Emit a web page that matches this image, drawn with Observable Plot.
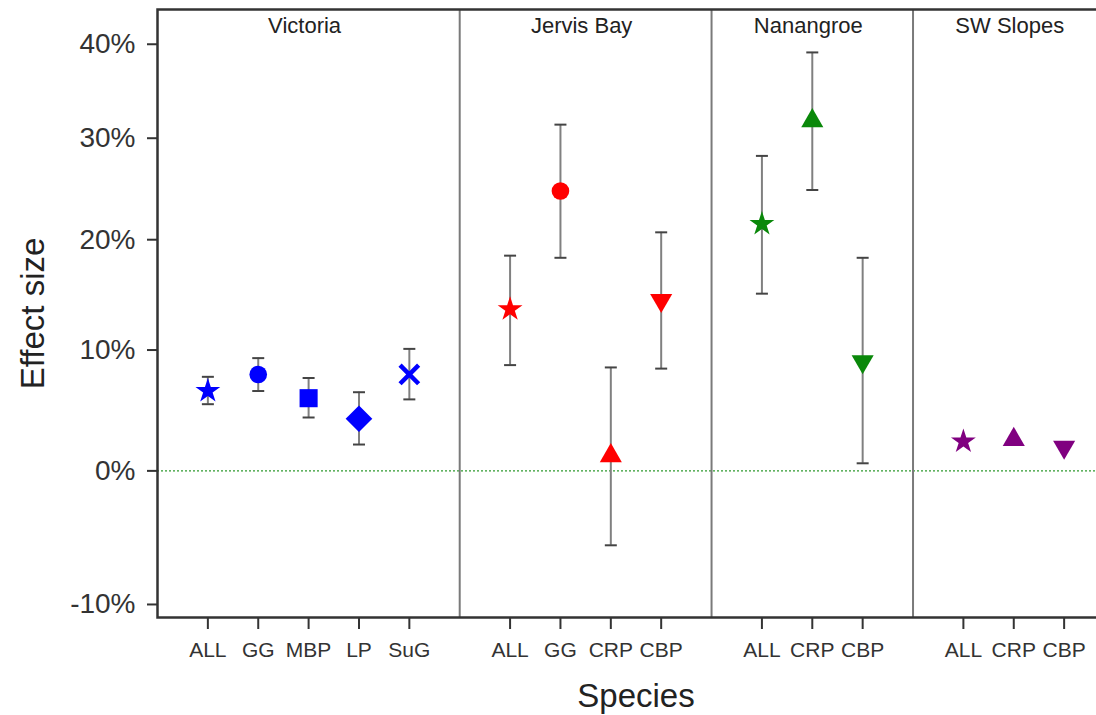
<!DOCTYPE html>
<html><head><meta charset="utf-8">
<script src="https://cdn.jsdelivr.net/npm/d3@7"></script>
<script src="https://cdn.jsdelivr.net/npm/@observablehq/plot@0.6"></script>
<style>
html,body{margin:0;padding:0;background:#fff;overflow:hidden;}
#chart svg{display:block;}
</style></head>
<body><div id="chart"></div>
<script>
// ---- data ----
const regions = ["Victoria", "Jervis Bay", "Nanangroe", "SW Slopes"];
const species = [
  ["ALL", "GG", "MBP", "LP", "SuG"],
  ["ALL", "GG", "CRP", "CBP"],
  ["ALL", "CRP", "CBP"],
  ["ALL", "CRP", "CBP"]
];
const effect = [
  [6.5, 7.9, 5.9, 4.2, 7.9],
  [13.6, 24.7, 1.2, 14.4],
  [21.5, 31.8, 9.0],
  [2.35, 2.5, 1.9]
];
const lower = [
  [5.4, 6.5, 4.3, 2.1, 5.8],
  [8.7, 18.3, -5.7, 8.4],
  [15.0, 24.8, 0.6],
  [null, null, null]
];
const upper = [
  [7.7, 9.3, 7.6, 6.4, 10.1],
  [18.5, 31.4, 8.5, 20.7],
  [28.2, 39.1, 18.3],
  [null, null, null]
];
const yTicks = [-10, 0, 10, 20, 30, 40];
const regionColors = ["#0000ff", "#ff0000", "#0a880a", "#800080"];

// ---- build table ----
const rows = [];
const gaps = [];
const centers = [];
let slot = 0;
regions.forEach((r, i) => {
  const first = slot + 1;
  species[i].forEach((s, j) => {
    slot += 1;
    rows.push({region: r, species: s, slot, effect: effect[i][j], lo: lower[i][j], hi: upper[i][j]});
  });
  centers.push({region: r, slot: (first + slot) / 2});
  slot += 1;
  if (i < regions.length - 1) gaps.push(slot);
});
const nSlots = slot;
const labelBySlot = new Map(rows.map(d => [d.slot, d.species]));
const ratio = v => 1 + v / 100;

const triangleDown = {
  draw(context, size) {
    const y = -Math.sqrt(size / (Math.sqrt(3) * 3));
    context.moveTo(0, -y * 2);
    context.lineTo(-Math.sqrt(3) * y, y);
    context.lineTo(Math.sqrt(3) * y, y);
    context.closePath();
  }
};
const hcap = {
  draw(context, size) {
    const w = Math.sqrt(size / Math.PI);
    context.moveTo(-w, 0);
    context.lineTo(w, 0);
  }
};

const shapes = [
  {sp: "ALL", symbol: "star", r: 7.8},
  {sp: "GG", symbol: "circle", r: 8.8},
  {sp: "MBP", symbol: "square", r: 10.2},
  {sp: "LP", symbol: "diamond2", r: 12},
  {sp: "CRP", symbol: "triangle", r: 8.2},
  {sp: "CBP", symbol: triangleDown, r: 8.2}
];

const withBars = rows.filter(d => d.lo != null);

const marks = [
  Plot.ruleY([0], {y: d => ratio(d), stroke: "#2f9a2f", strokeWidth: 1.4, strokeDasharray: "2,2"}),
  Plot.ruleX(gaps, {x: d => d, stroke: "#7a7a7a", strokeWidth: 2}),
  Plot.frame({stroke: "#333", strokeWidth: 2.5}),
  Plot.axisY({ticks: yTicks.map(ratio), tickFormat: d => Math.round((d - 1) * 100) + "%",
    tickSize: 10, tickPadding: 12, fontSize: 28, color: "#333", strokeWidth: 2, label: null}),
  Plot.axisX({ticks: rows.map(d => d.slot), tickFormat: s => labelBySlot.get(s),
    tickSize: 12, tickPadding: 13, fontSize: 21, color: "#333", strokeWidth: 2, label: null}),
  Plot.ruleX(withBars, {x: "slot", y1: d => ratio(d.lo), y2: d => ratio(d.hi), stroke: "#808080", strokeWidth: 2}),
  Plot.dot(withBars, {x: "slot", y: d => ratio(d.lo), symbol: hcap, r: 6, stroke: "#444", strokeWidth: 2, fill: "none"}),
  Plot.dot(withBars, {x: "slot", y: d => ratio(d.hi), symbol: hcap, r: 6, stroke: "#444", strokeWidth: 2, fill: "none"}),
  ...shapes.map(s => Plot.dot(rows.filter(d => d.species === s.sp),
    {x: "slot", y: d => ratio(d.effect), symbol: s.symbol, r: s.r, fill: "region", stroke: "none"})),
  Plot.dot(rows.filter(d => d.species === "SuG"),
    {x: "slot", y: d => ratio(d.effect), symbol: "times", r: 8.5, stroke: "region", strokeWidth: 4.5, fill: "none"}),
  Plot.text(centers, {x: "slot", text: "region", frameAnchor: "top", lineAnchor: "top", dy: 8, dx: -4, fontSize: 22, fill: "#222"}),
  Plot.text(["Effect size"], {text: d => d, frameAnchor: "left", textAnchor: "middle", rotate: -90, dx: -124, fontSize: 33, fill: "#222"}),
  Plot.text(["Species"], {text: d => d, frameAnchor: "bottom", lineAnchor: "top", dy: 66, fontSize: 33, fill: "#222"})
];

const chart = Plot.plot({
  width: 1096,
  height: 715,
  marginLeft: 157,
  marginRight: -18,
  marginTop: 9,
  marginBottom: 98,
  style: {fontFamily: "'Liberation Sans', Arial, sans-serif", background: "#fff", overflow: "hidden"},
  x: {domain: [0, nSlots], axis: null},
  y: {type: "log", domain: [0.8908, 1.4389], axis: null},
  color: {domain: regions, range: regionColors},
  marks
});
document.getElementById("chart").appendChild(chart);
</script>
</body></html>
